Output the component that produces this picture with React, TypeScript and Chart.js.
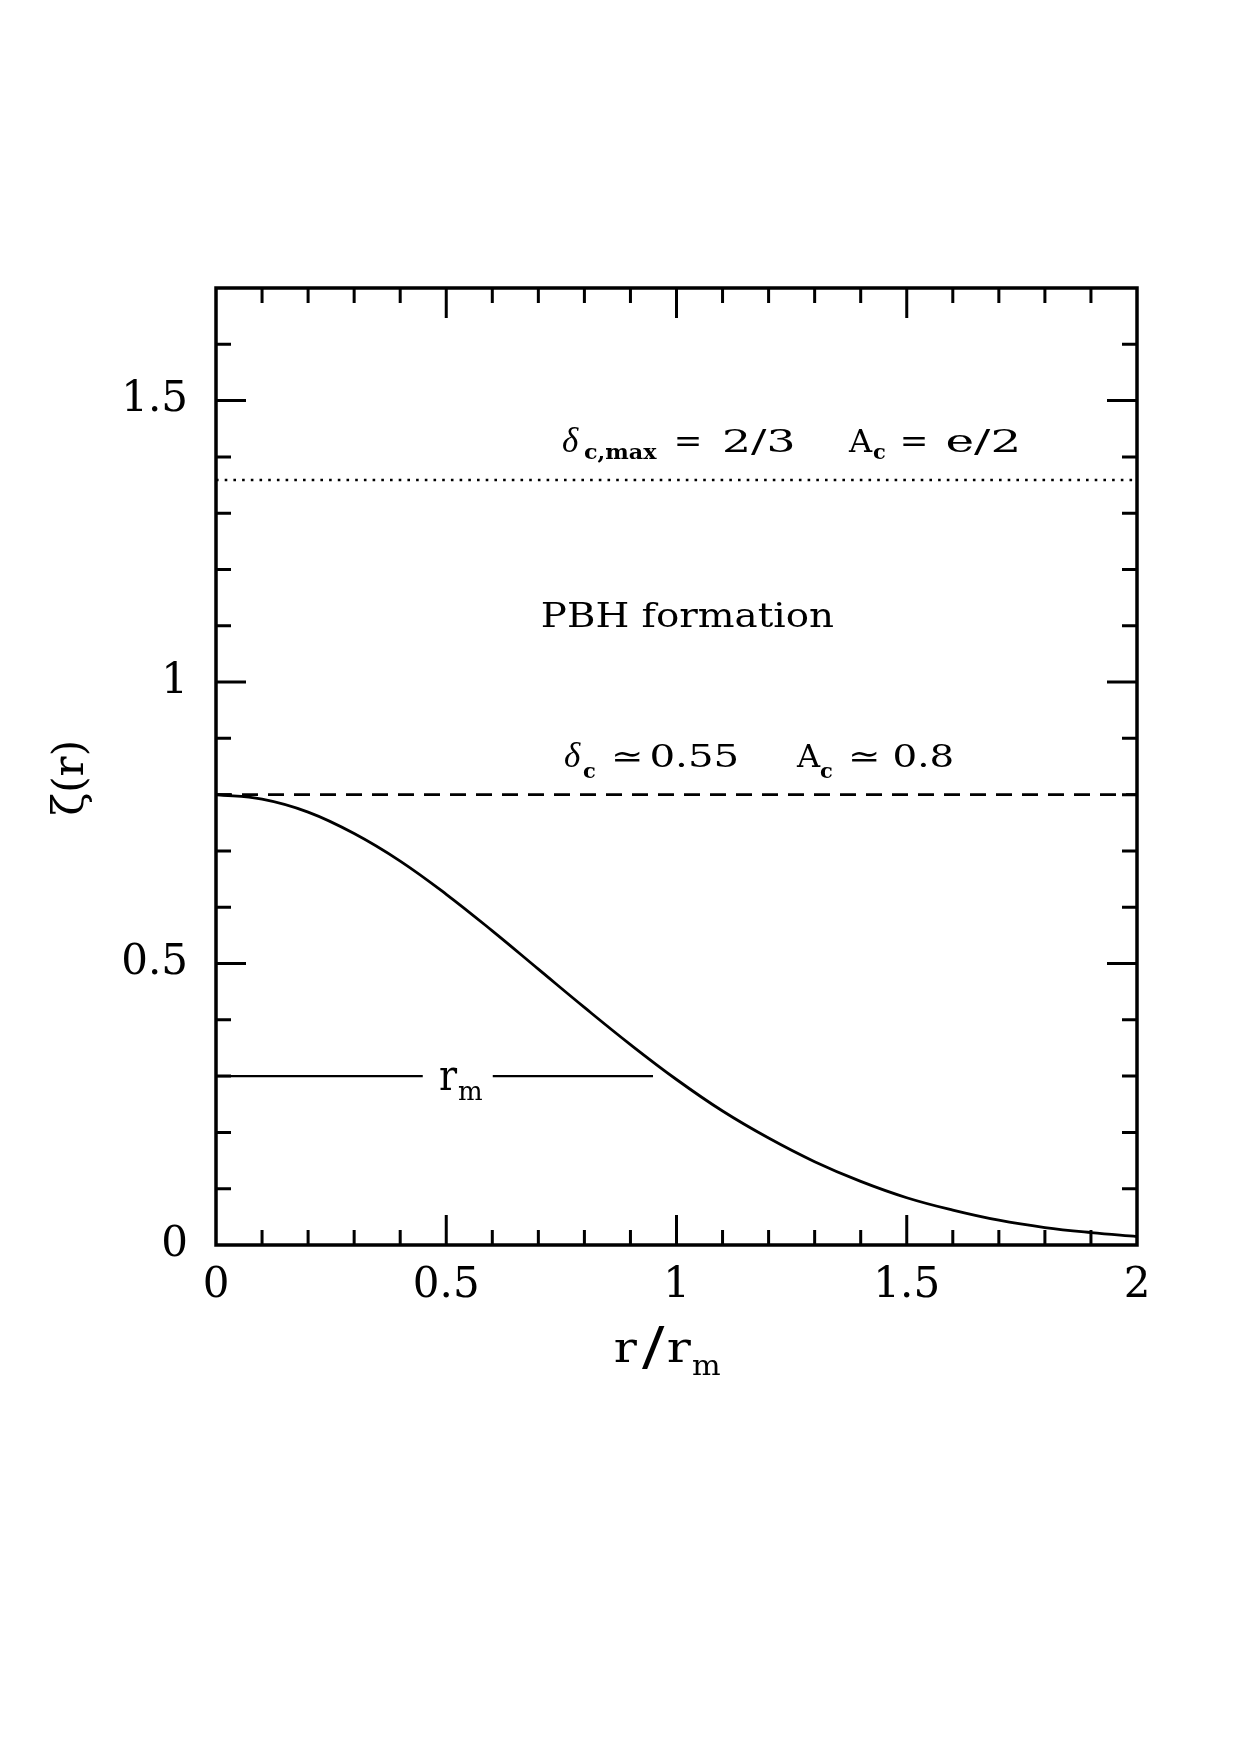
import React, { useEffect, useRef } from "react";
import { Chart, registerables } from "chart.js";

Chart.register(...registerables);

// ---- data ----
const rValues = [0, 0.1, 0.2, 0.3, 0.4, 0.5, 0.6, 0.7, 0.8, 0.9, 1.0, 1.1, 1.2, 1.3, 1.4, 1.5, 1.6, 1.7, 1.8, 1.9, 2.0];
const zetaValues = [0.8, 0.792, 0.769, 0.731, 0.682, 0.623, 0.558, 0.49, 0.422, 0.356, 0.294, 0.238, 0.19, 0.148, 0.113, 0.084, 0.062, 0.044, 0.031, 0.022, 0.015];

const criticalLevel = 0.8; // dashed: delta_c ~ 0.55, A_c ~ 0.8
const maxLevel = 1.359; // dotted: delta_c,max = 2/3, A_c = e/2
const rmLevel = 0.3;
const rmLeftSegment = [0, 0.449];
const rmRightSegment = [0.601, 0.949];

const xMinorTicks = [0, 0.1, 0.2, 0.3, 0.4, 0.5, 0.6, 0.7, 0.8, 0.9, 1.0, 1.1, 1.2, 1.3, 1.4, 1.5, 1.6, 1.7, 1.8, 1.9, 2.0];
const xMajorTicks = [0, 0.5, 1, 1.5, 2];
const xTickLabels = ["0", "0.5", "1", "1.5", "2"];
const yMinorTicks = [0, 0.1, 0.2, 0.3, 0.4, 0.5, 0.6, 0.7, 0.8, 0.9, 1.0, 1.1, 1.2, 1.3, 1.4, 1.5, 1.6, 1.7];
const yMajorTicks = [0, 0.5, 1, 1.5];
const yTickLabels = ["0", "0.5", "1", "1.5"];

const yTitle = "\u03B6(r)";

const SERIF = "'DejaVu Serif', serif";
const ITAL = "italic 35px 'Liberation Serif', serif";
const MAIN = "31px " + SERIF;
const CAP = "32px " + SERIF;
const SUB = "bold 21px " + SERIF;

function majorIndex(list: number[], v: number) {
  for (let i = 0; i < list.length; i++) if (Math.abs(list[i] - v) < 1e-9) return i;
  return -1;
}

// annotation pieces: [text, left (data x), right (data x) or null, baseline (data y), font]
type Piece = [string, number, number | null, number, string];
const upperNote: Piece[] = [
  ["\u03B4", 0.7535, null, 1.4093, ITAL],
  ["c,max", 0.7991, 0.9577, 1.3968, SUB],
  ["=", 1.0011, 1.0489, 1.4093, MAIN],
  ["2/3", 1.1053, 1.253, 1.4093, MAIN],
  ["A", 1.3725, null, 1.4093, CAP],
  ["c", 1.4267, null, 1.3968, SUB],
  ["=", 1.4919, 1.5397, 1.4093, MAIN],
  ["e/2", 1.5874, 1.7394, 1.4093, MAIN],
];
const middleNote: Piece[] = [["PBH formation", 0.7079, 1.3398, 1.0983, "34px " + SERIF]];
const lowerNote: Piece[] = [
  ["\u03B4", 0.7579, null, 0.8495, ITAL],
  ["c", 0.797, null, 0.83, SUB],
  ["\u2243", 0.8664, 0.9207, 0.8495, MAIN],
  ["0.55", 0.9468, 1.1314, 0.8495, MAIN],
  ["A", 1.2595, null, 0.8495, CAP],
  ["c", 1.3116, null, 0.83, SUB],
  ["\u2243", 1.3811, 1.4354, 0.8495, MAIN],
  ["0.8", 1.4745, 1.5983, 0.8495, MAIN],
];
const rmNote: Piece[] = [
  ["r", 0.4864, 0.5255, 0.275, "42px " + SERIF],
  ["m", 0.5255, null, 0.258, "26px " + SERIF],
];
const xTitleNote: Piece[] = [
  ["r", 0.8664, 0.9164, -0.208, "42px " + SERIF],
  ["/", 0.925, 0.975, -0.212, "52px " + SERIF],
  ["r", 0.9815, 1.0336, -0.208, "42px " + SERIF],
  ["m", 1.0358, 1.0944, -0.231, "28px " + SERIF],
];

const decorPlugin = {
  id: "decor",
  afterDraw(chart: any) {
    const ctx: CanvasRenderingContext2D = chart.ctx;
    const { left, right, top, bottom } = chart.chartArea;
    const xs = chart.scales.x;
    const ys = chart.scales.y;
    const X = (v: number) => xs.getPixelForValue(v);
    const Y = (v: number) => ys.getPixelForValue(v);
    ctx.save();
    ctx.strokeStyle = "#000";
    ctx.fillStyle = "#000";
    // frame
    ctx.lineWidth = 3.5;
    ctx.strokeRect(left, top, right - left, bottom - top);
    // ticks, inward, on all four sides
    ctx.lineWidth = 3;
    ctx.beginPath();
    xs.ticks.forEach((t: any) => {
      if (t.value <= xs.min + 1e-9 || t.value >= xs.max - 1e-9) return;
      const px = X(t.value);
      const len = majorIndex(xMajorTicks, t.value) >= 0 ? 30 : 15;
      ctx.moveTo(px, bottom);
      ctx.lineTo(px, bottom - len);
      ctx.moveTo(px, top);
      ctx.lineTo(px, top + len);
    });
    ys.ticks.forEach((t: any) => {
      if (t.value <= ys.min + 1e-9 || t.value >= ys.max - 1e-9) return;
      const py = Y(t.value);
      const len = majorIndex(yMajorTicks, t.value) >= 0 ? 30 : 15;
      ctx.moveTo(left, py);
      ctx.lineTo(left + len, py);
      ctx.moveTo(right, py);
      ctx.lineTo(right - len, py);
    });
    ctx.stroke();

    ctx.textBaseline = "alphabetic";
    ctx.textAlign = "left";
    // each piece is stretched horizontally so its ink spans [left, right]
    const draw = (pieces: Piece[]) => {
      pieces.forEach(([s, x0, x1, yb, font]) => {
        ctx.font = font;
        const px0 = X(x0);
        const py = Y(yb);
        const m = ctx.measureText(s);
        const inkL = -m.actualBoundingBoxLeft;
        const inkW = m.actualBoundingBoxRight + m.actualBoundingBoxLeft;
        const sx = x1 === null || inkW <= 0 ? 1 : (X(x1) - px0) / inkW;
        ctx.save();
        ctx.translate(px0, py);
        ctx.scale(sx, 1);
        ctx.fillText(s, -inkL, 0);
        ctx.restore();
      });
    };
    draw(upperNote);
    draw(middleNote);
    draw(lowerNote);
    draw(rmNote);
    draw(xTitleNote);

    // y axis title
    ctx.translate(left - 144, Y(0.83));
    ctx.rotate(-Math.PI / 2);
    ctx.textAlign = "center";
    ctx.textBaseline = "middle";
    ctx.font = "42px " + SERIF;
    ctx.fillText(yTitle, 0, 0);
    ctx.restore();
  },
};

export default function App() {
  const ref = useRef<HTMLCanvasElement>(null);
  useEffect(() => {
    const canvas = ref.current;
    if (!canvas) return;
    const curve = rValues.map((r, i) => ({ x: r, y: zetaValues[i] }));
    const chart = new Chart(canvas, {
      type: "line",
      data: {
        datasets: [
          {
            data: curve,
            borderColor: "#000",
            borderWidth: 2.8,
            pointRadius: 0,
            tension: 0.4,
            fill: false,
          },
          {
            data: [
              { x: 0, y: criticalLevel },
              { x: 2, y: criticalLevel },
            ],
            borderColor: "#000",
            borderWidth: 2.6,
            borderDash: [16, 10],
            pointRadius: 0,
            fill: false,
          },
          {
            data: [
              { x: 0, y: maxLevel },
              { x: 2, y: maxLevel },
            ],
            borderColor: "#000",
            borderWidth: 2.6,
            borderDash: [2.6, 6.1],
            pointRadius: 0,
            fill: false,
          },
          {
            data: [
              { x: rmLeftSegment[0], y: rmLevel },
              { x: rmLeftSegment[1], y: rmLevel },
            ],
            borderColor: "#000",
            borderWidth: 2.4,
            pointRadius: 0,
            fill: false,
          },
          {
            data: [
              { x: rmRightSegment[0], y: rmLevel },
              { x: rmRightSegment[1], y: rmLevel },
            ],
            borderColor: "#000",
            borderWidth: 2.4,
            pointRadius: 0,
            fill: false,
          },
        ],
      } as any,
      options: {
        animation: false,
        responsive: false,
        devicePixelRatio: 1,
        layout: { padding: { left: 0, top: 288, right: 103, bottom: 0 } },
        plugins: { legend: { display: false }, tooltip: { enabled: false } },
        scales: {
          x: {
            type: "linear",
            min: 0,
            max: 2,
            grid: { display: false, drawTicks: false },
            border: { display: false },
            afterBuildTicks: (s: any) => {
              s.ticks = xMinorTicks.map((v) => ({ value: v }));
            },
            afterFit: (s: any) => {
              s.height = 510;
            },
            ticks: {
              autoSkip: false,
              maxRotation: 0,
              minRotation: 0,
              padding: 16,
              color: "#000",
              font: { family: "DejaVu Serif", size: 42 },
              callback: (v: any) => {
                const i = majorIndex(xMajorTicks, Number(v));
                return i >= 0 ? xTickLabels[i] : "";
              },
            },
          },
          y: {
            type: "linear",
            min: 0,
            max: 1.7,
            grid: { display: false, drawTicks: false },
            border: { display: false },
            afterBuildTicks: (s: any) => {
              s.ticks = yMinorTicks.map((v) => ({ value: v }));
            },
            afterFit: (s: any) => {
              s.width = 216;
            },
            ticks: {
              autoSkip: false,
              padding: 28,
              color: "#000",
              font: { family: "DejaVu Serif", size: 42 },
              callback: (v: any) => {
                const i = majorIndex(yMajorTicks, Number(v));
                return i >= 0 ? yTickLabels[i] : "";
              },
            },
          },
        },
      } as any,
      plugins: [decorPlugin],
    });
    return () => chart.destroy();
  }, []);
  return (
    <div style={{ position: "absolute", left: 0, top: 0, width: 1240, height: 1755, background: "#fff" }}>
      <canvas ref={ref} width={1240} height={1755} style={{ display: "block", width: 1240, height: 1755 }} />
    </div>
  );
}
